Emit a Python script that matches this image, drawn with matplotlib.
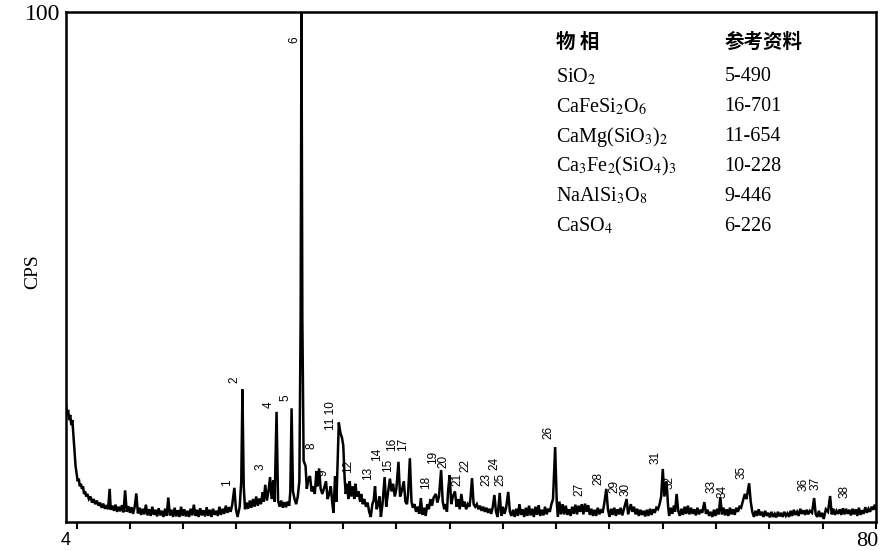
import matplotlib
matplotlib.use("Agg")
import matplotlib.pyplot as plt

plt.rcParams['mathtext.fontset'] = 'stix'

# XRD trace: 2theta (deg) and intensity (CPS, % of max)
two_theta = [
    4.0, 4.1, 4.2, 4.3, 4.4, 4.5, 4.6, 4.7, 4.8, 4.9, 5.0, 5.1, 5.2, 5.3, 5.4, 5.5, 5.6, 5.7, 5.8, 5.9,
    6.0, 6.15, 6.3, 6.45, 6.6, 6.75, 6.9, 7.05, 7.2, 7.35, 7.5, 7.65, 7.8, 7.95,
    8.1, 8.2, 8.35, 8.5, 8.65, 8.8, 8.95, 9.1, 9.25, 9.4, 9.55, 9.7, 9.85, 10.0, 10.15, 10.3, 10.45,
    10.6, 10.75, 10.9, 11.05, 11.2, 11.35, 11.5, 11.65, 11.8, 11.95, 12.1, 12.25, 12.4, 12.55, 12.7,
    12.85, 13.0, 13.15, 13.3, 13.45, 13.6, 13.75, 13.9, 14.05, 14.2, 14.35, 14.5, 14.65, 14.8, 14.95,
    15.1, 15.25, 15.4, 15.55, 15.7, 15.85, 16.0, 16.15, 16.3, 16.45, 16.6, 16.75, 16.9, 17.05, 17.2,
    17.35, 17.5, 17.65, 17.8, 17.95, 18.1, 18.25, 18.4, 18.55, 18.7, 18.85, 19.0, 19.15, 19.3, 19.45,
    19.6, 19.8, 19.95, 20.1, 20.3, 20.45, 20.56, 20.68, 20.8, 20.95, 21.1, 21.25, 21.4, 21.55, 21.7,
    21.85, 22.0, 22.15, 22.3, 22.45, 22.55, 22.7, 22.85, 23.0, 23.15, 23.3, 23.45, 23.58, 23.76, 23.9,
    24.05, 24.2, 24.35, 24.5, 24.65, 24.8, 24.95, 25.05, 25.17, 25.3, 25.45, 25.6, 25.75, 25.9, 26.02,
    26.1, 26.18, 26.3, 26.48, 26.6, 26.75, 26.9, 27.05, 27.2, 27.35, 27.5, 27.6, 27.75, 27.9, 28.05,
    28.2, 28.4, 28.55, 28.7, 28.85, 29.0, 29.1, 29.25, 29.38, 29.6, 29.75, 29.9, 30.02, 30.15, 30.25,
    30.4, 30.5, 30.62, 30.75, 30.9, 31.05, 31.15, 31.3, 31.45, 31.6, 31.7, 31.85, 32.0, 32.15, 32.3,
    32.45, 32.6, 32.75, 32.87, 33.0, 33.15, 33.3, 33.42, 33.55, 33.7, 33.9, 34.05, 34.2, 34.4, 34.55,
    34.7, 34.85, 35.0, 35.2, 35.35, 35.5, 35.7, 35.85, 36.0, 36.1, 36.27, 36.42, 36.55, 36.7, 36.85,
    37.0, 37.15, 37.3, 37.45, 37.6, 37.75, 37.9, 38.05, 38.2, 38.35, 38.5, 38.7, 38.85, 39.0, 39.2,
    39.35, 39.5, 39.6, 39.75, 39.85, 40.0, 40.15, 40.3, 40.5, 40.65, 40.8, 40.95, 41.1, 41.25, 41.4,
    41.55, 41.7, 41.85, 41.95, 42.1, 42.25, 42.4, 42.55, 42.7, 42.85, 43.0, 43.15, 43.3, 43.45, 43.6,
    43.75, 43.9, 44.05, 44.2, 44.35, 44.5, 44.7, 44.85, 45.0, 45.15, 45.3, 45.5, 45.65, 45.8, 45.95,
    46.1, 46.25, 46.4, 46.55, 46.7, 46.85, 47.0, 47.15, 47.3, 47.45, 47.6, 47.75, 47.9, 48.05, 48.2,
    48.35, 48.5, 48.65, 48.8, 48.95, 49.1, 49.25, 49.4, 49.55, 49.7, 49.9, 50.05, 50.15, 50.3, 50.45,
    50.6, 50.75, 50.9, 51.05, 51.2, 51.35, 51.5, 51.65, 51.8, 51.95, 52.1, 52.25, 52.4, 52.55, 52.7,
    52.85, 53.0, 53.15, 53.3, 53.45, 53.6, 53.75, 53.9, 54.05, 54.2, 54.35, 54.5, 54.7, 54.85, 55.0,
    55.15, 55.3, 55.45, 55.6, 55.75, 55.9, 56.05, 56.2, 56.35, 56.6, 56.75, 57.0, 57.15, 57.3, 57.45,
    57.6, 57.75, 57.9, 58.05, 58.2, 58.35, 58.5, 58.65, 58.8, 58.95, 59.1, 59.25, 59.4, 59.55, 59.7,
    59.85, 60.0, 60.15, 60.35, 60.5, 60.6, 60.75, 60.9, 61.05, 61.15, 61.3, 61.45, 61.6, 61.75, 61.9,
    62.05, 62.2, 62.35, 62.5, 62.65, 62.8, 62.95, 63.1, 63.25, 63.4, 63.55, 63.7, 63.9, 64.05, 64.2,
    64.35, 64.5, 64.65, 64.8, 64.95, 65.1, 65.25, 65.4, 65.55, 65.7, 65.85, 66.0, 66.15, 66.3, 66.45,
    66.6, 66.75, 66.9, 67.05, 67.2, 67.35, 67.5, 67.7, 67.85, 68.1, 68.25, 68.4, 68.55, 68.7, 68.85,
    69.0, 69.15, 69.3, 69.45, 69.6, 69.75, 69.9, 70.05, 70.2, 70.35, 70.5, 70.65, 70.8, 70.95, 71.1,
    71.25, 71.4, 71.55, 71.7, 71.85, 72.0, 72.15, 72.3, 72.45, 72.6, 72.75, 72.9, 73.05, 73.2, 73.35,
    73.5, 73.65, 73.8, 74.0, 74.2, 74.35, 74.5, 74.65, 74.8, 74.95, 75.1, 75.3, 75.5, 75.7, 75.85,
    76.0, 76.15, 76.3, 76.45, 76.6, 76.75, 76.9, 77.05, 77.2, 77.35, 77.5, 77.65, 77.8, 77.95, 78.1,
    78.25, 78.4, 78.55, 78.7, 78.85, 79.0, 79.15, 79.3, 79.45, 79.6, 79.75, 79.9, 80.0,
]
cps = [
    23, 21, 22, 20, 21, 19, 20, 17, 14, 11, 9.5, 8, 8.5, 7, 7.5, 6.5, 7, 5.5, 6, 5,
    5.5, 4.5, 5, 3.8, 4.5, 3.5, 4.2, 3.2, 3.8, 2.8, 3.6, 2.6, 3.3, 2.5,
    6.5, 2.4, 3.2, 2.2, 3.4, 2.0, 3.0, 2.1, 3.3, 1.9, 6.2, 2.0, 3.1, 1.8, 2.9, 1.6, 3.0,
    5.6, 1.7, 2.8, 1.4, 2.6, 1.5, 3.4, 1.3, 2.5, 1.2, 3.0, 1.4, 2.4, 1.1, 2.7,
    1.3, 2.2, 1.0, 2.6, 1.2, 4.8, 1.3, 2.4, 1.0, 2.8, 1.1, 2.3, 1.0, 3.0, 1.2,
    2.5, 1.1, 2.2, 1.0, 2.6, 1.3, 3.4, 1.2, 2.4, 1.0, 2.7, 1.3, 2.3, 1.1, 2.9,
    1.2, 2.4, 1.0, 2.6, 1.4, 2.2, 1.2, 3.0, 1.4, 2.6, 1.6, 3.2, 1.8, 2.9, 2.0,
    3.4, 6.7, 2.5, 1.0, 3.0, 8.0, 26, 7.0, 2.5, 3.8, 2.6, 4.2, 2.8, 4.5, 3.0,
    5.0, 3.2, 4.6, 3.5, 5.8, 4.0, 7.3, 4.2, 6.0, 8.8, 4.5, 8.2, 4.0, 21.6, 4.2,
    3.0, 4.2, 2.8, 3.9, 2.9, 4.0, 3.2, 6.0, 22.3, 6.0, 4.5, 3.5, 5.0, 8.0, 40,
    100, 40, 12, 11, 6.5, 8.5, 9.0, 6.0, 7.0, 5.5, 10.0, 7.0, 10.5, 6.5, 5.5,
    6.5, 8.0, 4.5, 5.5, 7.0, 3.5, 1.8, 9.0, 4.0, 19.5, 17.5, 16.5, 15, 8.5, 5.5,
    7.5, 4.5, 8.0, 5.0, 7.0, 4.5, 7.5, 5.0, 6.0, 4.0, 5.5, 3.5, 4.5, 3.0, 3.8,
    2.0, 1.0, 3.5, 4.2, 7.0, 2.5, 3.5, 5.0, 1.0, 3.5, 8.8, 3.0, 5.5, 8.5, 6.0,
    7.5, 5.0, 6.5, 11.8, 5.0, 6.0, 8.0, 4.0, 3.5, 5.5, 12.5, 4.0, 2.8, 3.5, 2.0,
    3.0, 1.6, 4.7, 1.4, 2.8, 1.2, 3.5, 2.5, 4.5, 3.2, 4.8, 5.5, 3.8, 5.0, 10.2,
    4.0, 2.5, 3.5, 2.0, 6.0, 9.2, 3.5, 5.0, 6.0, 3.0, 4.5, 2.5, 5.5, 3.0, 4.0,
    2.5, 3.5, 3.0, 4.5, 8.6, 3.5, 3.0, 3.5, 2.5, 3.2, 2.2, 3.0, 2.0, 2.8, 1.8,
    2.6, 1.6, 3.0, 5.3, 2.0, 1.0, 5.7, 1.2, 3.0, 1.6, 2.8, 5.9, 2.0, 1.2, 2.4,
    1.0, 2.6, 1.2, 3.5, 1.4, 2.5, 1.0, 2.8, 1.2, 3.2, 1.3, 2.6, 1.0, 3.0, 1.4,
    3.3, 1.2, 2.4, 1.3, 3.0, 1.5, 2.6, 2.0, 3.5, 4.5, 14.7, 4.0, 1.0, 4.0, 1.5,
    3.5, 1.5, 3.2, 1.4, 2.5, 1.2, 3.0, 1.6, 3.4, 1.5, 3.2, 2.0, 3.5, 1.5, 3.6,
    2.0, 3.3, 1.4, 2.6, 1.2, 2.4, 1.2, 2.8, 1.5, 2.5, 1.8, 3.5, 6.5, 2.5, 1.0,
    2.6, 1.4, 2.8, 1.2, 2.5, 1.5, 2.8, 1.3, 2.5, 4.5, 1.5, 3.5, 2.0, 3.0, 1.5,
    2.6, 1.2, 2.4, 1.4, 2.2, 1.1, 2.4, 1.2, 2.6, 1.4, 2.5, 1.8, 2.8, 2.5, 3.5,
    5.0, 10.4, 5.0, 8.0, 3.0, 1.2, 2.8, 1.6, 3.2, 2.0, 5.5, 2.2, 1.2, 2.6, 1.4,
    3.0, 1.6, 3.2, 1.5, 2.8, 1.6, 2.5, 1.3, 2.8, 1.5, 2.4, 1.8, 3.9, 1.6, 2.4,
    1.2, 2.0, 1.0, 2.4, 1.2, 2.6, 1.5, 4.9, 1.5, 2.8, 1.3, 2.5, 1.2, 2.8, 1.5,
    2.5, 1.4, 2.8, 2.0, 3.0, 2.8, 4.0, 5.5, 4.5, 7.6, 4.0, 2.0, 1.0, 2.2, 1.2,
    2.5, 1.3, 2.0, 1.0, 2.2, 1.2, 1.8, 0.9, 2.0, 1.0, 1.6, 0.9, 2.0, 1.1, 1.8,
    1.0, 2.0, 1.2, 1.7, 1.0, 2.2, 1.2, 2.4, 1.4, 2.0, 1.2, 2.6, 1.6, 2.3, 1.4,
    2.4, 1.5, 2.2, 1.8, 4.7, 1.5, 1.0, 2.2, 1.0, 1.8, 0.6, 2.5, 2.0, 5.1, 1.5,
    2.6, 1.4, 2.2, 1.6, 2.5, 1.4, 2.7, 1.5, 2.6, 1.6, 2.4, 1.3, 2.6, 1.5, 2.5,
    1.2, 2.8, 1.4, 2.3, 1.6, 2.9, 1.8, 2.6, 2.0, 3.0, 2.4, 3.4, 2.6,
]

# peak numbers and where their labels sit (2theta, CPS)
peak_labels = ['6', '1', '2', '3', '4', '5', '8', '9', '11 10', '12', '13', '14', '15', '16', '17',
               '18', '19', '20', '21', '22', '23', '24', '25', '26', '27', '28', '29', '30',
               '31', '32', '33', '34', '35', '36', '37', '38']
label_x = [25.45, 19.15, 19.8, 22.25, 23.0, 24.6, 27.0, 28.2, 28.9, 30.5, 32.3, 33.2, 34.2, 34.6,
           35.6, 37.8, 38.4, 39.4, 40.7, 41.5, 43.5, 44.2, 44.8, 49.3, 52.2, 54.0, 55.45, 56.5,
           59.3, 60.6, 64.6, 65.6, 67.4, 73.2, 74.3, 77.1]
label_y = [94.5, 7.8, 27.8, 10.8, 23.1, 24.3, 14.9, 9.6, 20.8, 10.8, 9.6, 13.3, 11.2, 15.3,
           15.3, 7.8, 12.7, 11.8, 8.4, 11.0, 8.4, 11.4, 8.4, 17.5, 6.3, 8.6, 6.9, 6.3,
           12.7, 7.8, 6.9, 5.9, 9.8, 7.3, 7.6, 5.9]

# phase table
phases = [r'SiO$_2$', r'CaFeSi$_2$O$_6$', r'CaMg(SiO$_3$)$_2$', r'Ca$_3$Fe$_2$(SiO$_4$)$_3$',
          r'NaAlSi$_3$O$_8$', r'CaSO$_4$']
references = ['5-490', '16-701', '11-654', '10-228', '9-446', '6-226']

fig = plt.figure(figsize=(8.95, 5.51), dpi=100)
ax = fig.add_axes([0.0737, 0.0526, 0.905, 0.9256])

ax.plot(two_theta, cps, color='black', lw=1.8, solid_joinstyle='miter')
ax.set_xlim(4, 80)
ax.set_ylim(0, 100)

for spine in ax.spines.values():
    spine.set_linewidth(1.8)

ax.set_xticks(range(5, 81, 5))
ax.set_xticklabels([])
ax.tick_params(axis='x', direction='out', length=5, width=1.5)
ax.set_yticks([100])
ax.set_yticklabels(['100'], family='Liberation Serif', fontsize=17)
ax.tick_params(axis='y', length=0, pad=4)

ax.text(4, -2.0, '4', ha='center', va='top', fontsize=13, family='Liberation Sans')
ax.text(80.2, -2.0, '80', ha='right', va='top', fontsize=16, family='Liberation Serif')
ax.set_ylabel('CPS', family='Liberation Serif', fontsize=14)
ax.yaxis.set_label_coords(-0.03, 0.49)

for lab, lx, ly in zip(peak_labels, label_x, label_y):
    ax.text(lx, ly, lab, rotation=90, ha='center', va='center', fontsize=8.5,
            family='Liberation Sans')

# table of phases in the upper right
col1, col2 = 50.0, 65.8
ax.text(col1, 94.1, '物 相', family=['Noto Sans CJK SC'], weight='bold', fontsize=14,
        ha='left', va='center')
ax.text(col2, 94.1, '参考资料', family=['Noto Sans CJK SC'], weight='bold', fontsize=14,
        ha='left', va='center')
row_y = [87.3, 81.4, 75.5, 69.8, 63.9, 58.0]
for name, ref, ry in zip(phases, references, row_y):
    ax.text(col1, ry, name, family='Liberation Serif', fontsize=14.5, ha='left', va='center')
    ax.text(col2, ry, ref, family='Liberation Serif', fontsize=14.5, ha='left', va='center')

fig.savefig('out.png', dpi=100)
